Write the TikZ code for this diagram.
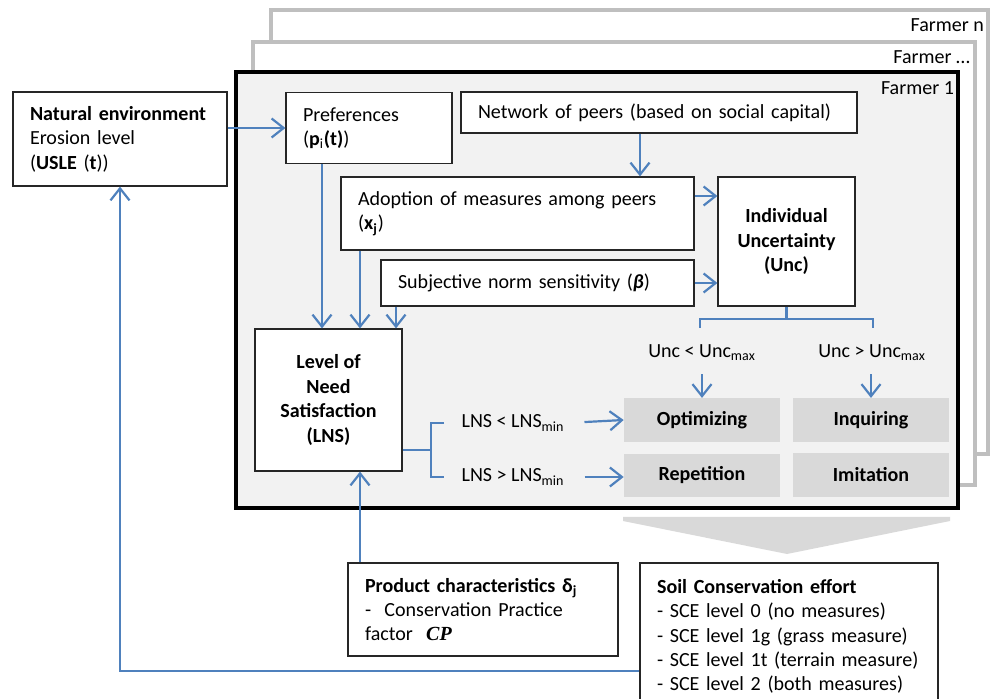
\documentclass[tikz,border=0pt]{standalone}
\usepackage{fontspec}
\setmainfont{Carlito}
\newfontfamily\cambria{Liberation Serif}
\usetikzlibrary{arrows.meta, positioning}
\definecolor{flow}{RGB}{79, 129, 189}
\definecolor{panel}{RGB}{242, 242, 242}
\definecolor{choice}{RGB}{217, 217, 217}
\definecolor{stack}{RGB}{191, 191, 191}
\tikzset{
    box/.style={rectangle, draw=black!85, line width=0.7pt, fill=white, inner xsep=0.34cm, align=left},
    boldbox/.style={rectangle, draw=black!85, line width=0.7pt, fill=white, align=center, font=\bfseries},
    strategy/.style={rectangle, fill=choice, minimum width=3.12cm, minimum height=0.87cm, font=\bfseries},
    cond/.style={inner sep=1pt},
    arrow/.style={flow, line width=1.25pt, -{Straight Barb[length=2.4mm, width=3.8mm]}},
    bline/.style={flow, line width=1.25pt},
    frame/.style={draw=stack, line width=2pt, fill=white}
}

\begin{document}
\hyphenpenalty=10000 \exhyphenpenalty=10000
\fontsize{11.4}{13.9}\selectfont
\begin{tikzpicture}[x=0.02cm, y=-0.02cm]
    \useasboundingbox (0,0) rectangle (995,699);

    % Farmer stack
    \draw[frame] (271,10) rectangle (988,454);
    \node[anchor=east, inner sep=1pt] (farmern) at (986,25) {Farmer n};
    \draw[frame] (253,42) rectangle (975,485);
    \node[anchor=east, inner sep=1pt] (farmerdots) at (972,57) {Farmer \dots};
    \draw[line width=2.8pt, fill=panel] (236,72) rectangle (958,508);
    \node[anchor=east, inner sep=1pt] (farmer1) at (956,88) {Farmer 1};

    % Inputs
    \node[box, minimum width=4.28cm, minimum height=1.88cm, text width=3.6cm] (natenv) at (120,139) {\textbf{Natural environment}\\Erosion level\\(\textbf{USLE} (\textbf{t}))};
    \node[box, minimum width=3.32cm, minimum height=1.42cm, text width=2.64cm] (pref) at (369,128) {Preferences\\(\textbf{p}\textsubscript{i}\textbf{(t)})};
    \node[box, minimum width=7.92cm, minimum height=0.82cm, text width=7.24cm] (network) at (659,112.5) {Network of peers (based on social capital)};
    \node[box, minimum width=7.06cm, minimum height=1.46cm, text width=6.38cm] (adopt) at (517.5,213.5) {Adoption of measures among peers\\(\textbf{x}\textsubscript{\textbf{j}})};
    \node[box, minimum width=6.26cm, minimum height=0.92cm, text width=5.58cm] (subj) at (537.5,283) {Subjective norm sensitivity (\textbf{\textit{β}})};
    \node[boldbox, minimum width=2.74cm, minimum height=2.58cm] (unc) at (786.5,241.5) {Individual\\Uncertainty\\(Unc)};
    \node[boldbox, minimum width=2.94cm, minimum height=2.84cm] (lns) at (328.5,400) {Level of\\Need\\Satisfaction\\(LNS)};

    % Strategies
    \node[strategy] (opt) at (702,420) {Optimizing};
    \node[strategy] (inq) at (871,420) {Inquiring};
    \node[strategy] (rep) at (702,475.5) {Repetition};
    \node[strategy] (imi) at (871,475) {Imitation};

    % Conditions
    \node[cond] (uncless) at (702,353) {Unc < Unc\textsubscript{max}};
    \node[cond] (uncmore) at (872,353) {Unc > Unc\textsubscript{max}};
    \node[cond] (lnsless) at (513,423) {LNS < LNS\textsubscript{min}};
    \node[cond] (lnsmore) at (513,477) {LNS > LNS\textsubscript{min}};

    % Outputs
    \node[box, minimum width=5.4cm, minimum height=1.86cm, text width=4.72cm] (prod) at (483,609.5) {\textbf{Product characteristics δ\textsubscript{j}}\\-\ \ Conservation Practice\\factor\ \ {\cambria\bfseries\itshape CP}};
    \node[box, minimum width=5.96cm, minimum height=2.94cm, text width=5.28cm] (sce) at (789,636.5) {\textbf{Soil Conservation effort}\\- SCE level 0 (no measures)\\- SCE level 1g (grass measure)\\- SCE level 1t (terrain measure)\\- SCE level 2 (both measures)};
    \fill[choice] (623,517) -- (950,517) -- (950,521) -- (787,554) -- (623,521) -- cycle;

    % Arrows
    \draw[arrow] (natenv.east |- pref.west) -- (pref.west);
    \draw[arrow] (network.south -| 640,0) -- (adopt.north -| 640,0);
    \draw[arrow] (pref.south -| 322,0) -- (lns.north -| 322,0);
    \draw[arrow] (adopt.south -| 360,0) -- (lns.north -| 360,0);
    \draw[arrow] (subj.south -| 396,0) -- (lns.north -| 396,0);
    \draw[arrow] (adopt.east |- 0,196) -- (unc.west |- 0,196);
    \draw[arrow] (subj.east) -- (unc.west |- subj.east);
    \draw[bline] (unc.south) -- (unc.south |- 0,319);
    \draw[bline] (700,328) -- (700,319) -- (873,319) -- (873,328);
    \draw[arrow, shorten <=0.22cm] (uncless.south -| opt.north) -- (opt.north);
    \draw[arrow, shorten <=0.22cm] (uncmore.south -| inq.north) -- (inq.north);
    \draw[bline] (lns.east |- 0,450) -- (431,450);
    \draw[bline] (444,423) -- (431,423) -- (431,477) -- (444,477);
    \draw[arrow, shorten <=0.36cm] (lnsless.east) -- (opt.west);
    \draw[arrow, shorten <=0.36cm] (lnsmore.east) -- (rep.west |- lnsmore.east);
    \draw[arrow] (prod.north -| 360,0) -- (lns.south -| 360,0);
    \draw[arrow] (sce.west |- 0,671) -| (natenv.south);
\end{tikzpicture}
\end{document}
